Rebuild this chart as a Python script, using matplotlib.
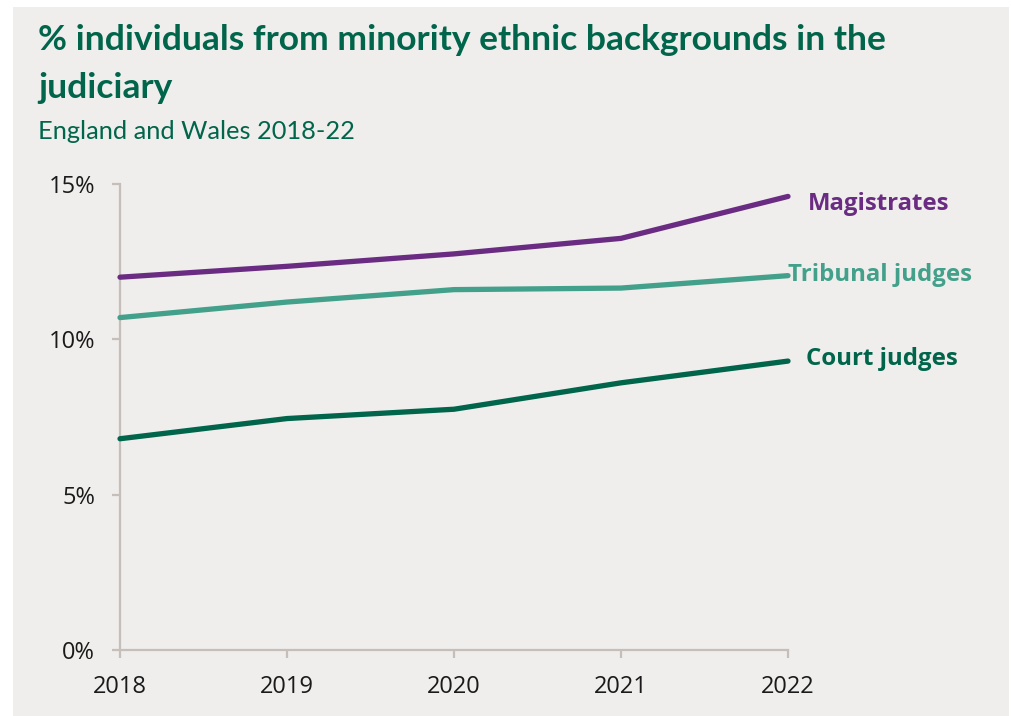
import matplotlib
matplotlib.use("Agg")
import matplotlib.pyplot as plt
from matplotlib.patches import Rectangle

years = [2018, 2019, 2020, 2021, 2022]
magistrates = [12.0, 12.35, 12.75, 13.25, 14.6]
tribunal_judges = [10.7, 11.2, 11.6, 11.65, 12.05]
court_judges = [6.8, 7.45, 7.75, 8.6, 9.3]

series_names = ["Magistrates", "Tribunal judges", "Court judges"]
series_values = [magistrates, tribunal_judges, court_judges]
series_colors = ["#6a2c82", "#43a08a", "#00654a"]
label_offsets = [(14, -9.8), (0, -3.8), (13, -3.1)]

y_ticks = [0, 5, 10, 15]
y_tick_labels = ["0%", "5%", "10%", "15%"]

title_lines = ["% individuals from minority ethnic backgrounds in the", "judiciary"]
subtitle_text = "England and Wales 2018-22"

bg = "#efeeec"
green = "#00654a"
axis_col = "#c6beb8"

fig = plt.figure(figsize=(10.11, 7.16), dpi=100)
fig.patch.set_facecolor("white")
fig.patches.append(Rectangle((13 / 1011, 0), (1009 - 13) / 1011, 1 - 7 / 716,
                             transform=fig.transFigure, facecolor=bg,
                             edgecolor="none", zorder=-5))

ax = fig.add_axes([120 / 1011, 1 - 650 / 716, (788 - 120) / 1011, (650 - 184) / 716])
ax.set_zorder(2)
ax.set_facecolor("none")

for name, vals, col, off in zip(series_names, series_values, series_colors, label_offsets):
    ax.plot(years, vals, color=col, lw=3.8, solid_capstyle="round", clip_on=False, zorder=3)
    ax.annotate(name, xy=(years[-1], vals[-1]), xytext=off, textcoords="offset points",
                ha="left", va="baseline", color=col, fontsize=17.3, fontweight="bold",
                family="Open Sans", annotation_clip=False)

ax.set_xlim(years[0], years[-1])
ax.set_ylim(0, 15)
ax.set_xticks(years)
ax.set_xticklabels([str(y) for y in years])
ax.set_yticks(y_ticks)
ax.set_yticklabels(y_tick_labels)

for s in ["top", "right"]:
    ax.spines[s].set_visible(False)
for s in ["left", "bottom"]:
    ax.spines[s].set_color(axis_col)
    ax.spines[s].set_linewidth(1.6)

ax.tick_params(axis="both", colors=axis_col, length=6, width=1.6, pad=12,
               labelcolor="#1a1a1a", labelsize=17)
for lab in ax.get_xticklabels() + ax.get_yticklabels():
    lab.set_family("Open Sans")

for line, base in zip(title_lines, [50, 98]):
    fig.text(38 / 1011, 1 - base / 716, line, ha="left", va="baseline",
             fontsize=25.5, fontweight="bold", color=green, family="Lato", zorder=3)
fig.text(38 / 1011, 1 - 139 / 716, subtitle_text, ha="left", va="baseline",
         fontsize=18.3, color=green, family="Lato", zorder=3)

fig.savefig("out.png", dpi=100, facecolor=fig.get_facecolor())
